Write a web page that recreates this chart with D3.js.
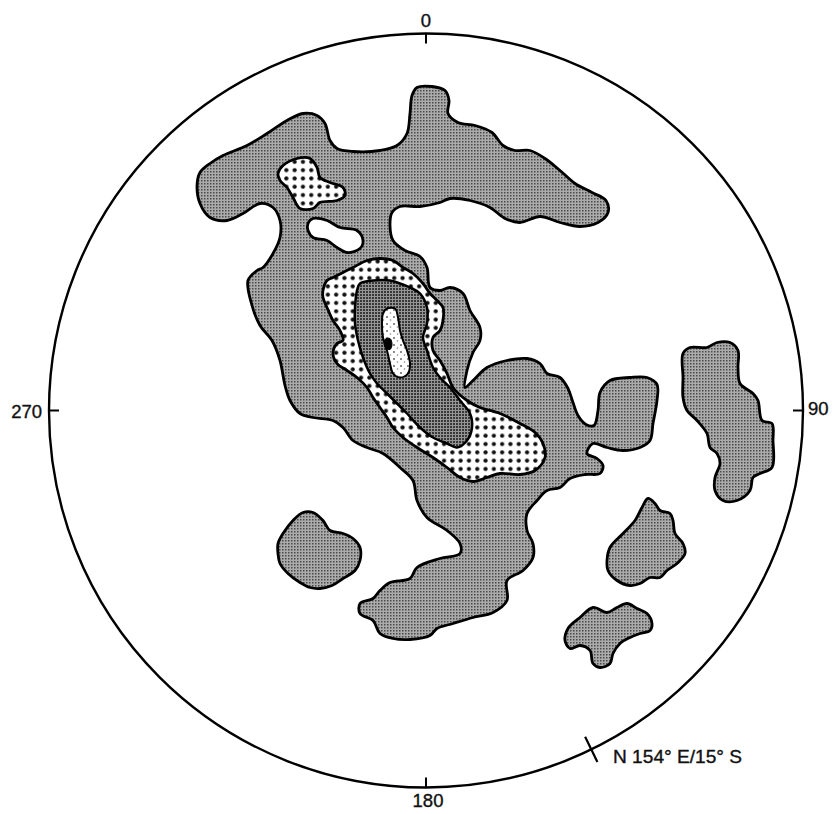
<!DOCTYPE html>
<html>
<head>
<meta charset="utf-8">
<script src="https://cdn.jsdelivr.net/npm/d3@7/dist/d3.min.js"></script>
<style>
html,body{margin:0;padding:0;background:#fff;}
svg{display:block;}
text{font-family:"Liberation Sans",Arial,Helvetica,sans-serif;fill:#111;stroke:#111;stroke-width:0.35px;}
</style>
</head>
<body>
<svg id="chart" width="834" height="814"></svg>
<script>
// ---- Data: contour outlines in net coordinates (origin = net centre, y up, net radius = 377 units)
const netRadiusUnits = 377;

// Contour level 1 (lowest density) - main body
const level1Main = [[-229,224],[-226,238],[-216,247],[-203,255],[-179,265],[-159,277],[-139,290],[-123,297],[-109,295],[-101,287],[-96,270],[-89,262],[-73,259],[-46,260],[-29,265],[-19,277],[-16,297],[-14,315],[-9,323],[6,324],[19,320],[23,310],[22,297],[32,288],[49,285],[66,278],[77,265],[89,260],[104,260],[119,252],[134,240],[149,227],[166,218],[180,210],[182,198],[172,188],[154,184],[134,188],[114,194],[94,188],[79,192],[64,203],[44,210],[24,212],[14,208],[-6,204],[-26,204],[-34,198],[-36,185],[-33,170],[-21,160],[-6,154],[1,143],[4,123],[14,120],[24,123],[37,117],[44,100],[54,83],[54,70],[47,58],[41,40],[39,23],[47,30],[61,43],[81,50],[101,52],[114,47],[121,37],[134,33],[142,22],[147,8],[152,-5],[160,-14],[168,-15],[172,0],[174,18],[184,30],[204,33],[221,33],[231,26],[231,10],[227,-13],[224,-30],[214,-37],[197,-40],[181,-37],[167,-33],[161,-43],[171,-48],[177,-55],[174,-63],[159,-64],[144,-68],[134,-77],[121,-80],[111,-90],[101,-103],[101,-120],[107,-133],[107,-147],[97,-160],[81,-170],[81,-190],[67,-202],[47,-207],[27,-213],[11,-218],[4,-225],[-16,-229],[-33,-228],[-46,-223],[-53,-210],[-66,-203],[-66,-193],[-53,-188],[-46,-180],[-36,-172],[-16,-168],[-9,-157],[14,-148],[34,-143],[34,-133],[21,-120],[1,-107],[-9,-90],[-13,-70],[-26,-57],[-43,-43],[-59,-37],[-73,-30],[-83,-17],[-93,-10],[-113,-7],[-126,-3],[-136,10],[-141,25],[-146,50],[-154,70],[-166,85],[-174,105],[-178,130],[-169,140],[-163,143],[-153,157],[-146,173],[-146,190],[-153,203],[-166,207],[-183,197],[-199,190],[-216,193],[-226,207]];
// Level 1 - isolated patches
const level1East = [[257,57],[264,63],[281,63],[291,68],[304,68],[312,60],[312,43],[314,27],[327,17],[332,10],[336,-10],[346,-13],[347,-30],[346,-57],[334,-63],[327,-67],[324,-80],[311,-90],[297,-90],[289,-80],[289,-67],[294,-53],[291,-43],[284,-37],[281,-23],[271,-10],[261,0],[257,13],[257,33]];
const level1SE1 = [[181,-150],[184,-137],[197,-123],[209,-110],[216,-97],[222,-88],[229,-93],[234,-100],[244,-103],[247,-110],[249,-123],[257,-133],[259,-143],[251,-153],[241,-160],[234,-167],[224,-167],[214,-173],[204,-175],[191,-170],[182,-160]];
const level1SE2 = [[139,-230],[142,-218],[154,-207],[167,-197],[181,-202],[191,-197],[201,-193],[211,-198],[221,-203],[226,-213],[224,-220],[214,-223],[204,-227],[194,-233],[187,-243],[184,-253],[174,-257],[167,-253],[164,-240],[154,-235],[144,-238]];
const level1SW = [[-148,-133],[-143,-123],[-133,-110],[-123,-102],[-113,-102],[-103,-110],[-96,-120],[-83,-123],[-73,-128],[-66,-137],[-66,-150],[-71,-160],[-83,-168],[-94,-175],[-106,-178],[-116,-177],[-126,-172],[-138,-163],[-146,-153],[-148,-143]];
// Hole (below level 1) inside main body
const level0Hole = [[-118,187],[-113,192],[-99,190],[-86,183],[-69,180],[-63,170],[-66,162],[-79,158],[-89,163],[-99,170],[-113,173],[-118,180]];
// Contour level 2
const level2NW = [[-148,237],[-143,245],[-129,252],[-116,252],[-109,243],[-106,233],[-96,228],[-83,223],[-81,215],[-89,210],[-106,208],[-113,202],[-126,202],[-133,213],[-139,223],[-146,230]];
const level2Main = [[-103,120],[-99,130],[-93,133],[-83,138],[-73,143],[-59,150],[-46,152],[-33,150],[-23,143],[-13,137],[-3,127],[4,117],[11,110],[17,103],[17,90],[14,80],[7,73],[7,60],[14,50],[21,37],[27,23],[41,10],[54,3],[74,-3],[94,-13],[109,-22],[117,-33],[119,-47],[109,-60],[94,-64],[74,-63],[61,-67],[47,-71],[34,-67],[21,-57],[7,-47],[-9,-37],[-23,-27],[-33,-17],[-39,-7],[-46,3],[-53,13],[-59,23],[-69,33],[-79,40],[-89,47],[-93,57],[-89,67],[-83,70],[-86,80],[-93,90],[-99,103],[-103,113]];
// Contour level 3
const level3 = [[-69,120],[-66,127],[-53,130],[-36,130],[-26,127],[-16,123],[-6,117],[1,103],[1,87],[-3,73],[1,60],[7,43],[14,33],[24,23],[34,10],[44,-3],[46,-17],[41,-30],[31,-37],[21,-33],[7,-27],[-6,-17],[-19,-3],[-29,7],[-39,17],[-49,27],[-56,37],[-63,53],[-68,70],[-71,87],[-71,103]];
// Contour level 4
const level4 = [[-43,97],[-39,102],[-31,102],[-28,93],[-26,80],[-23,70],[-19,60],[-16,47],[-18,37],[-26,33],[-33,37],[-36,47],[-39,60],[-43,73],[-44,87]];
// Maximum
const level5 = [[-41,71],[-36,72],[-34,66],[-36,61],[-41,63]];

// Azimuth labels
const azimuths = [0, 90, 180, 270];
const azimuthLabels = ["0", "90", "180", "270"];
// Annotation
const planeAzimuth = 154;
const planeLabel = "N 154° E/15° S";

// ---- Layout
const cx = 426, cy = 410.5, R = 377;
const svg = d3.select("#chart");

const x = d3.scaleLinear().domain([-netRadiusUnits, netRadiusUnits]).range([cx - R, cx + R]);
const y = d3.scaleLinear().domain([-netRadiusUnits, netRadiusUnits]).range([cy + R, cy - R]);

// ---- Patterns
const defs = svg.append("defs");
const pLight = defs.append("pattern").attr("id","pLight").attr("patternUnits","userSpaceOnUse").attr("width",3).attr("height",3);
pLight.append("rect").attr("width",3).attr("height",3).attr("fill","#ababab");
pLight.append("rect").attr("x",0).attr("y",0).attr("width",1.5).attr("height",1.5).attr("fill","#4a4a4a");

const pDots = defs.append("pattern").attr("id","pDots").attr("patternUnits","userSpaceOnUse").attr("width",8.3).attr("height",8.3);
pDots.append("rect").attr("width",8.3).attr("height",8.3).attr("fill","#fff");
pDots.append("circle").attr("cx",4.15).attr("cy",4.15).attr("r",2.1).attr("fill","#111");

const pDark = defs.append("pattern").attr("id","pDark").attr("patternUnits","userSpaceOnUse").attr("width",3).attr("height",3);
pDark.append("rect").attr("width",3).attr("height",3).attr("fill","#959595");
pDark.append("rect").attr("x",0).attr("y",0).attr("width",2).attr("height",2).attr("fill","#383838");

const pSpeck = defs.append("pattern").attr("id","pSpeck").attr("patternUnits","userSpaceOnUse").attr("width",7).attr("height",7);
pSpeck.append("rect").attr("width",7).attr("height",7).attr("fill","#fff");
pSpeck.append("circle").attr("cx",2).attr("cy",2).attr("r",1).attr("fill","#666");
pSpeck.append("circle").attr("cx",5.5).attr("cy",5).attr("r",0.8).attr("fill","#888");

// ---- Contours
const line = d3.line()
  .x(d => x(d[0]))
  .y(d => y(d[1]))
  .curve(d3.curveCatmullRomClosed.alpha(0.5));

const g = svg.append("g");
function draw(data, fill, sw) {
  g.append("path").attr("d", line(data))
    .attr("fill", fill).attr("stroke", "#000")
    .attr("stroke-width", sw).attr("stroke-linejoin", "round");
}
[level1Main, level1East, level1SE1, level1SE2, level1SW].forEach(d => draw(d, "url(#pLight)", 2.8));
draw(level0Hole, "#fff", 2.8);
draw(level2NW, "url(#pDots)", 2.8);
draw(level2Main, "url(#pDots)", 2.8);
draw(level3, "url(#pDark)", 2.5);
draw(level4, "url(#pSpeck)", 2);
draw(level5, "#000", 1);

// ---- Net circle
svg.append("circle").attr("cx", cx).attr("cy", cy).attr("r", R)
  .attr("fill", "none").attr("stroke", "#000").attr("stroke-width", 2.4);

// ---- Azimuth ticks and labels
const rad = a => a * Math.PI / 180;
const tickLen = 10;
azimuths.forEach((az, i) => {
  const sx = Math.sin(rad(az)), sy = -Math.cos(rad(az));
  svg.append("line")
    .attr("x1", cx + sx * R).attr("y1", cy + sy * R)
    .attr("x2", cx + sx * (R - tickLen)).attr("y2", cy + sy * (R - tickLen))
    .attr("stroke", "#000").attr("stroke-width", 2);
  const t = svg.append("text").text(azimuthLabels[i]).attr("font-size", 18.5);
  if (az === 0) t.attr("x", cx).attr("y", cy - R - 7).attr("text-anchor","middle");
  else if (az === 180) t.attr("x", cx + 2).attr("y", cy + R + 19).attr("text-anchor","middle");
  else if (az === 90) t.attr("x", cx + R + 5).attr("y", cy + 4).attr("text-anchor","start");
  else t.attr("x", cx - R - 7).attr("y", cy + 7).attr("text-anchor","end");
});

// ---- Plane annotation
{
  const sx = Math.sin(rad(planeAzimuth)), sy = -Math.cos(rad(planeAzimuth));
  svg.append("line")
    .attr("x1", cx + sx * (R - 14)).attr("y1", cy + sy * (R - 14))
    .attr("x2", cx + sx * (R + 14)).attr("y2", cy + sy * (R + 14))
    .attr("stroke", "#000").attr("stroke-width", 2.2);
  svg.append("text").text(planeLabel)
    .attr("x", 613).attr("y", 763).attr("font-size", 18)
    .attr("textLength", 129).attr("lengthAdjust", "spacingAndGlyphs");
}
</script>
</body>
</html>
